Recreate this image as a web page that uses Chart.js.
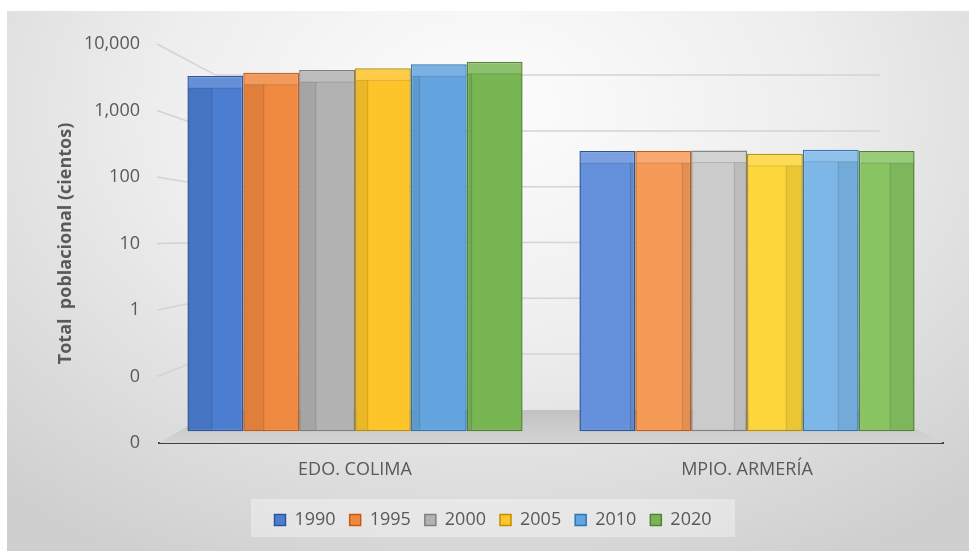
<!DOCTYPE html>
<html>
<head>
<meta charset="utf-8">
<script src="https://cdn.jsdelivr.net/npm/chart.js@4.4.1/dist/chart.umd.min.js"></script>
<style>
    html, body { margin: 0; padding: 0; background: #fff; }
    #frame {
        position: absolute;
        left: 7px;
        top: 11px;
        width: 962px;
        height: 540px;
        background: radial-gradient(ellipse 75% 95% at 50% 18%, #fdfdfd 0%, #eeeeee 45%, #cfcfcf 100%);
    }
</style>
</head>
<body>
<div id="frame"><canvas id="chart"></canvas></div>
<script>
const places = ["EDO. COLIMA", "MPIO. ARMERÍA"];
const years = ["1990", "1995", "2000", "2005", "2010", "2020"];

// population in hundreds, [Colima state, Armería municipality]
const v1990 = [3300, 245];
const v1995 = [3700, 245];
const v2000 = [4050, 250];
const v2005 = [4300, 223];
const v2010 = [4950, 257];
const v2020 = [5400, 245];

const tickValues = [0.01, 0.1, 1, 10, 100, 1000, 10000];
const tickLabels = ["0", "0", "1", "10", "100", "1,000", "10,000"];

// front colour for each group (state, municipality) and outline colour
const fills = [
    ["#4b7dd1", "#6490dc"],
    ["#f08940", "#f69a58"],
    ["#b2b2b2", "#cbcbcb"],
    ["#fdc52a", "#fcd63a"],
    ["#64a5df", "#7db7e8"],
    ["#78b654", "#88c462"],
];
const outlines = ["#2f5597", "#c55a11", "#7f7f7f", "#bf9000", "#2e75b6", "#548235"];

const series = [v1990, v1995, v2000, v2005, v2010, v2020];

Chart.defaults.font.family = "'Open Sans', sans-serif";
Chart.defaults.color = "#595959";

// floor, back wall grid and the sloped lines from the tick labels
const wallPlugin = {
    id: "wall",
    afterLayout(chart) {
        // legend sits a little right of the centre
        const legend = chart.legend;
        if (!legend) return;
        legend.left += 18;
        legend.right += 18;
        if (legend.adjustHitBoxes) legend.adjustHitBoxes();
    },
    beforeDraw(chart) {
        const legend = chart.legend;
        if (!legend) return;
        const cx = (legend.left + legend.right) / 2;
        const cy = (legend.top + legend.bottom) / 2;
        const ctx = chart.ctx;
        ctx.save();
        ctx.fillStyle = "rgba(255,255,255,0.35)";
        ctx.fillRect(cx - 242, cy - 19, 484, 38);
        ctx.restore();
    },
    beforeDatasetsDraw(chart) {
        const { ctx, chartArea, scales } = chart;
        const { left, right, top, bottom } = chartArea;
        const w = right - left;
        const h = bottom - top;
        const backL = left + w * 0.072;
        const backR = right - w * 0.081;
        const backTop = top + h * 0.078;
        const backBot = bottom - h * 0.083;
        const backY = (y) => backTop + ((y - top) / h) * (backBot - backTop);

        ctx.save();
        const g = ctx.createLinearGradient(0, backBot, 0, bottom);
        g.addColorStop(0, "#c2c2c2");
        g.addColorStop(1, "#d4d4d4");
        ctx.fillStyle = g;
        ctx.beginPath();
        ctx.moveTo(left, bottom);
        ctx.lineTo(backL, backBot);
        ctx.lineTo(backR, backBot);
        ctx.lineTo(right, bottom);
        ctx.closePath();
        ctx.fill();

        ctx.strokeStyle = "#d3d3d3";
        ctx.lineWidth = 1.5;
        scales.y.ticks.forEach((t) => {
            if (t.value <= scales.y.min) return;
            const y = scales.y.getPixelForValue(t.value);
            ctx.beginPath();
            ctx.moveTo(left - 2, y);
            ctx.lineTo(backL, backY(y));
            ctx.lineTo(backR, backY(y));
            ctx.stroke();
        });
        ctx.restore();
    },
    afterDatasetsDraw(chart) {
        const { ctx, chartArea } = chart;
        const vanish = (chartArea.left + chartArea.right) / 2;
        ctx.save();
        chart.data.datasets.forEach((ds, i) => {
            chart.getDatasetMeta(i).data.forEach((bar) => {
                const { x, y, base, width } = bar.getProps(["x", "y", "base", "width"], true);
                const x0 = x - width / 2;
                // lit top face
                ctx.fillStyle = "rgba(255,255,255,0.15)";
                ctx.fillRect(x0 + 1, y + 1, width - 2, 11);
                ctx.strokeStyle = "rgba(0,0,0,0.13)";
                ctx.lineWidth = 1;
                ctx.beginPath();
                ctx.moveTo(x0 + 1, y + 12);
                ctx.lineTo(x0 + width - 1, y + 12);
                ctx.stroke();
                // shaded side face, wider the further the bar is from the middle
                const side = Math.min(Math.abs(x - vanish) * 0.07, width * 0.45);
                const sx = x < vanish ? x0 + 1 : x0 + width - 1 - side;
                ctx.fillStyle = "rgba(0,0,0,0.07)";
                ctx.fillRect(sx, y + 12, side, base - y - 13);
                const ex = x < vanish ? sx + side : sx;
                ctx.beginPath();
                ctx.moveTo(ex, y + 12);
                ctx.lineTo(ex, base - 1);
                ctx.stroke();
            });
        });
        ctx.restore();
    },
};

new Chart(document.getElementById("chart"), {
    type: "bar",
    data: {
        labels: places,
        datasets: series.map((vals, i) => ({
            label: years[i],
            data: vals,
            base: 0.015,
            backgroundColor: (c) => (c.dataIndex === 1 ? fills[i][1] : fills[i][0]),
            borderColor: outlines[i],
            borderWidth: 1.5,
            borderSkipped: false,
            categoryPercentage: 0.855,
            barPercentage: 1,
        })),
    },
    options: {
        responsive: true,
        maintainAspectRatio: false,
        animation: false,
        layout: { padding: { top: 33, right: 26, bottom: 12, left: 0 } },
        plugins: {
            legend: {
                position: "bottom",
                labels: {
                    boxWidth: 11,
                    boxHeight: 11,
                    padding: 14,
                    color: "#595959",
                    font: { size: 18 },
                },
            },
            tooltip: { enabled: false },
        },
        scales: {
            x: {
                grid: { display: false, drawTicks: false },
                border: { display: true, color: "#3f3f3f", width: 2 },
                ticks: { padding: 16, color: "#595959", font: { size: 18 } },
                afterFit: (axis) => { axis.height = 54; },
            },
            y: {
                type: "logarithmic",
                min: 0.01,
                max: 10000,
                grid: { display: false, drawTicks: false },
                border: { display: false },
                afterBuildTicks: (axis) => {
                    axis.ticks = tickValues.map((v) => ({ value: v }));
                },
                ticks: {
                    padding: 19,
                    color: "#595959",
                    font: { size: 18 },
                    callback: (v, i) => tickLabels[i],
                },
                title: {
                    display: true,
                    text: "Total  poblacional (cientos)",
                    color: "#595959",
                    font: { size: 18, weight: "bold" },
                    padding: { top: 48, bottom: 0 },
                },
                afterFit: (axis) => { axis.width = 152; },
            },
        },
    },
    plugins: [wallPlugin],
});
</script>
</body>
</html>
